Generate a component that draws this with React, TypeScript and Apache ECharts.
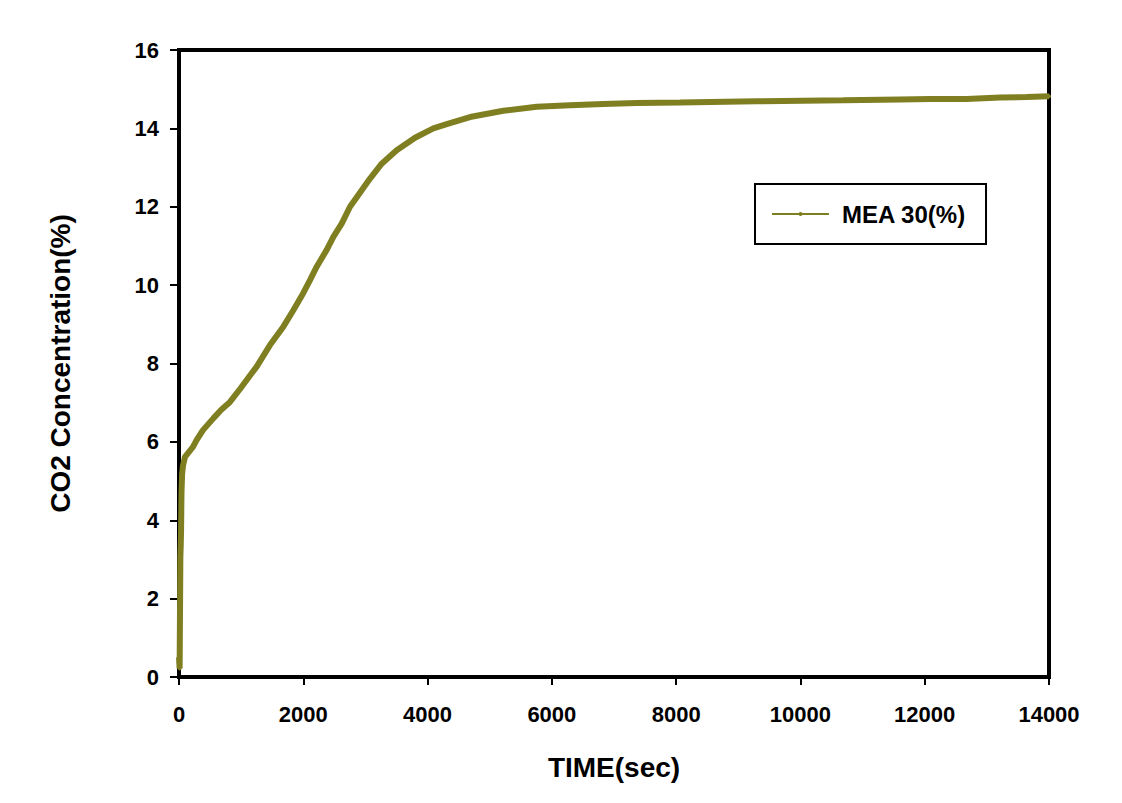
import React, { useEffect, useRef } from "react";
import * as echarts from "echarts";

const timeSec: number[] = [
  0, 10, 22, 28, 33, 40, 50, 65, 97, 225, 285, 386, 552, 680, 821, 982, 1250,
  1464, 1679, 1840, 2001, 2108, 2216, 2377, 2484, 2618, 2752, 2886, 3074, 3262,
  3503, 3798, 4093, 4334, 4683, 5219, 5756, 6292, 6828, 7365, 8062, 9297,
  10690, 11600, 12085, 12676, 13212, 13642, 14000,
];
const co2Pct: number[] = [
  0.5, 0.22, 3.06, 3.37, 3.7, 4.7, 5.18, 5.4, 5.62, 5.87, 6.05, 6.3, 6.6, 6.82,
  7.02, 7.35, 7.92, 8.47, 8.94, 9.36, 9.8, 10.13, 10.47, 10.9, 11.23, 11.57,
  12.0, 12.3, 12.72, 13.1, 13.44, 13.76, 14.0, 14.12, 14.29, 14.45,
  14.55, 14.59, 14.62, 14.65, 14.66, 14.69, 14.72, 14.74, 14.75, 14.75, 14.79,
  14.8, 14.82,
];
const seriesName = "MEA 30(%)";
const xTitle = "TIME(sec)";
const yTitle = "CO2 Concentration(%)";

const FONT = "'Liberation Sans', Arial, sans-serif";
const OLIVE = "#7f7f22";

export default function App() {
  const ref = useRef<HTMLDivElement>(null);
  useEffect(() => {
    document.body.style.margin = "0";
    if (!ref.current) return;
    const chart = echarts.init(ref.current, null, { renderer: "svg" });
    const data = timeSec.map((t, i) => [t, co2Pct[i]]);
    chart.setOption({
      animation: false,
      backgroundColor: "#fff",
      grid: {
        left: 179,
        right: 73,
        top: 50,
        bottom: 126,
        show: true,
        borderColor: "#000",
        borderWidth: 4,
      },
      legend: {
        left: 755,
        top: 184,
        padding: [18, 20, 18, 16],
        borderColor: "#000",
        borderWidth: 2,
        backgroundColor: "#fff",
        itemWidth: 57,
        itemHeight: 5,
        lineStyle: { width: 2 },
        textStyle: {
          fontFamily: FONT,
          fontWeight: "bold",
          fontSize: 24,
          color: "#000",
          padding: [0, 0, 0, 8],
        },
        data: [seriesName],
      },
      xAxis: {
        type: "value",
        min: 0,
        max: 14000,
        interval: 2000,
        name: xTitle,
        nameLocation: "middle",
        nameGap: 76,
        nameTextStyle: {
          fontFamily: FONT,
          fontWeight: "bold",
          fontSize: 28,
          color: "#000",
        },
        splitLine: { show: false },
        axisLine: { show: true, lineStyle: { color: "#000", width: 4 } },
        axisTick: { show: true, length: 8, lineStyle: { color: "#000", width: 2 } },
        axisLabel: {
          margin: 26,
          fontFamily: FONT,
          fontWeight: "bold",
          fontSize: 22,
          color: "#000",
          formatter: (v: number) => String(v),
        },
      },
      yAxis: {
        type: "value",
        min: 0,
        max: 16,
        interval: 2,
        name: yTitle,
        nameLocation: "middle",
        nameGap: 105,
        nameTextStyle: {
          fontFamily: FONT,
          fontWeight: "bold",
          fontSize: 28,
          color: "#000",
        },
        splitLine: { show: false },
        axisLine: { show: true, lineStyle: { color: "#000", width: 4 } },
        axisTick: { show: true, length: 9, lineStyle: { color: "#000", width: 2 } },
        axisLabel: {
          margin: 20,
          fontFamily: FONT,
          fontWeight: "bold",
          fontSize: 22,
          color: "#000",
        },
      },
      series: [
        {
          name: seriesName,
          type: "line",
          data,
          color: OLIVE,
          symbol: "circle",
          symbolSize: 4,
          showSymbol: true,
          lineStyle: { color: OLIVE, width: 6 },
          itemStyle: { color: OLIVE },
        },
      ],
    });
    return () => chart.dispose();
  }, []);
  return <div ref={ref} style={{ width: 1122, height: 803 }} />;
}
